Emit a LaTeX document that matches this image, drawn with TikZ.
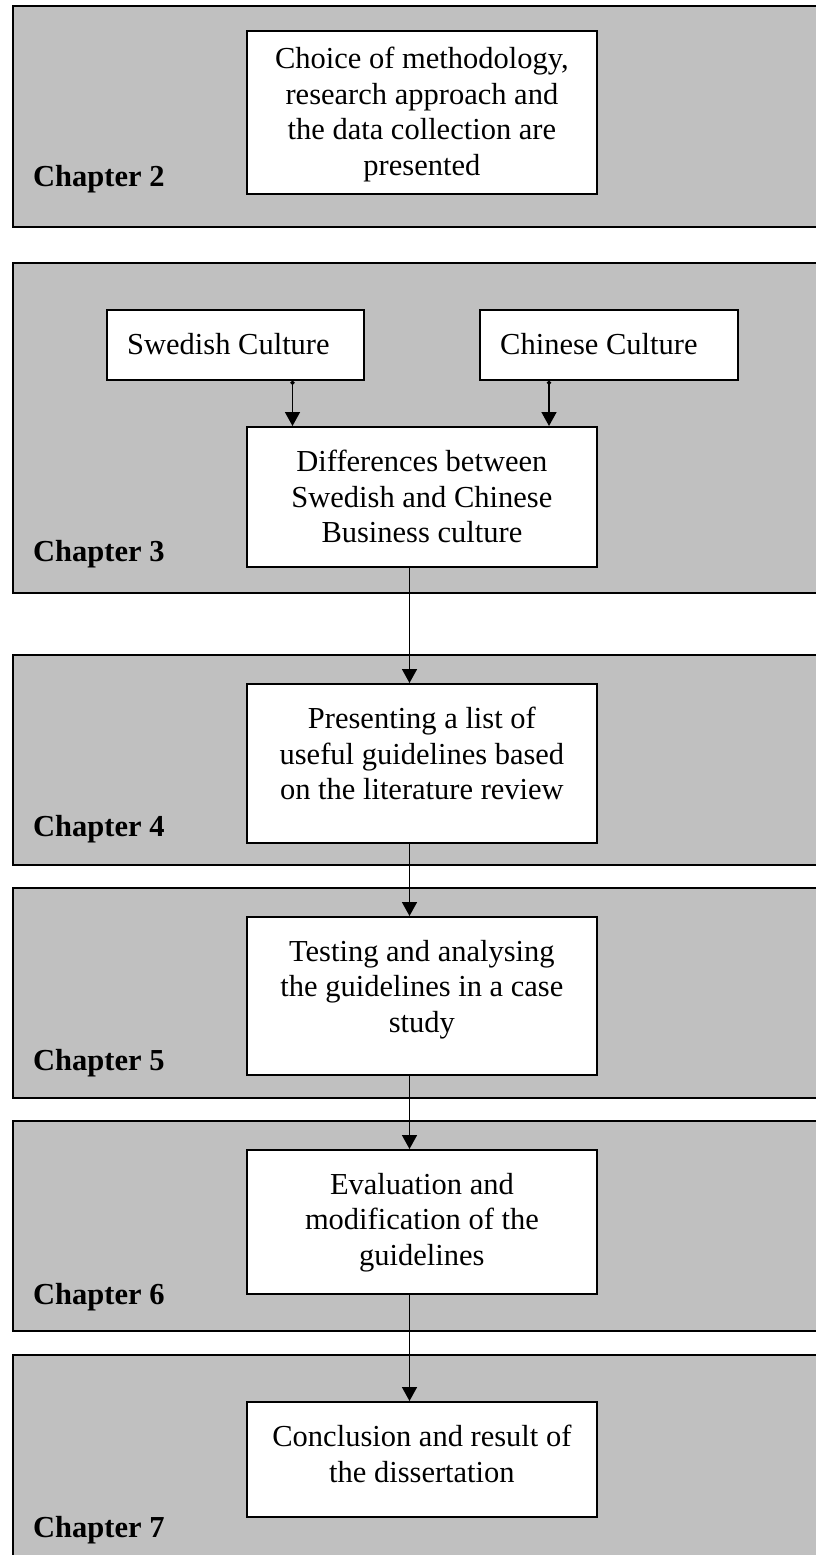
\documentclass[tikz,border=0pt]{standalone}
\usepackage{fontspec}
\setmainfont{Liberation Serif}
\usetikzlibrary{arrows.meta,calc}
\definecolor{bandgray}{HTML}{C0C0C0}
\begin{document}
\begin{tikzpicture}[x=1pt,y=-1pt,
  band/.style={draw=black, fill=bandgray, line width=1.7pt, inner sep=0pt, anchor=north west, minimum width=830pt},
  stepbox/.style={draw=black, fill=white, line width=1.8pt, inner sep=0pt, anchor=north west},
  boxtext/.style={inner sep=0pt, align=center, font=\fontsize{30.5}{35.5}\selectfont},
  chap/.style={inner sep=0pt, anchor=base west, font=\fontsize{30.5}{35.5}\selectfont\bfseries},
  arr/.style={line width=1.6pt, -{Triangle[length=14pt,width=15pt]}},
  arrdot/.style={line width=1.6pt, {Circle[length=4pt]}-{Triangle[length=14pt,width=15pt]}},
]
\useasboundingbox (0,0) rectangle (816,1555);
\begin{scope}
\clip (0,0) rectangle (816,1555);
% chapter bands
\node[band, minimum height=220.5pt] (c2) at (12.3,5.5) {};
\node[band, minimum height=330pt] (c3) at (12.3,262) {};
\node[band, minimum height=210pt] (c4) at (12.3,654) {};
\node[band, minimum height=210pt] (c5) at (12.3,887) {};
\node[band, minimum height=210pt] (c6) at (12.3,1120) {};
\node[band, minimum height=260pt] (c7) at (12.3,1354) {};

% chapter labels
\node[chap] (l2) at (33,186) {Chapter 2};
\node[chap] (l3) at (33,561) {Chapter 3};
\node[chap] (l4) at (33,836) {Chapter 4};
\node[chap] (l5) at (33,1070) {Chapter 5};
\node[chap] (l6) at (33,1304) {Chapter 6};
\node[chap] (l7) at (33,1537) {Chapter 7};

% boxes
\node[stepbox, minimum width=350pt, minimum height=163pt] (b2) at (246,30) {};
\node[stepbox, minimum width=257pt, minimum height=70pt] (sw) at (106,309) {};
\node[stepbox, minimum width=258pt, minimum height=70pt] (cn) at (479,309) {};
\node[stepbox, minimum width=350pt, minimum height=140pt] (df) at (246,426) {};
\node[stepbox, minimum width=350pt, minimum height=159pt] (b4) at (246,683) {};
\node[stepbox, minimum width=350pt, minimum height=158pt] (b5) at (246,916) {};
\node[stepbox, minimum width=350pt, minimum height=144pt] (b6) at (246,1149) {};
\node[stepbox, minimum width=350pt, minimum height=115pt] (b7) at (246,1401) {};

% box texts
\node[boxtext, anchor=north] (t2) at ([yshift=-17pt]b2.north) {Choice of methodology,\\research approach and\\the data collection are\\presented};
\node[boxtext, anchor=north west] (tsw) at ([xshift=21pt,yshift=-24pt]sw.north west) {Swedish Culture};
\node[boxtext, anchor=north west] (tcn) at ([xshift=21pt,yshift=-24pt]cn.north west) {Chinese Culture};
\node[boxtext, anchor=north] (tdf) at ([yshift=-24pt]df.north) {Differences between\\Swedish and Chinese\\Business culture};
\node[boxtext, anchor=north] (t4) at ([yshift=-24pt]b4.north) {Presenting a list of\\useful guidelines based\\on the literature review};
\node[boxtext, anchor=north] (t5) at ([yshift=-24pt]b5.north) {Testing and analysing\\the guidelines in a case\\study};
\node[boxtext, anchor=north] (t6) at ([yshift=-24pt]b6.north) {Evaluation and\\modification of the\\guidelines};
\node[boxtext, anchor=north] (t7) at ([yshift=-24pt]b7.north) {Conclusion and result of\\the dissertation};
\end{scope}

% connectors
\coordinate (axL) at (292.5,0);
\coordinate (axR) at (549,0);
\coordinate (axM) at (409.5,0);
\draw[arrdot] (sw.south -| axL) -- (df.north -| axL);
\draw[arrdot] (cn.south -| axR) -- (df.north -| axR);
\draw[arr] (df.south -| axM) -- (b4.north -| axM);
\draw[arr] (b4.south -| axM) -- (b5.north -| axM);
\draw[arr] (b5.south -| axM) -- (b6.north -| axM);
\draw[arr] (b6.south -| axM) -- (b7.north -| axM);
\end{tikzpicture}
\end{document}
